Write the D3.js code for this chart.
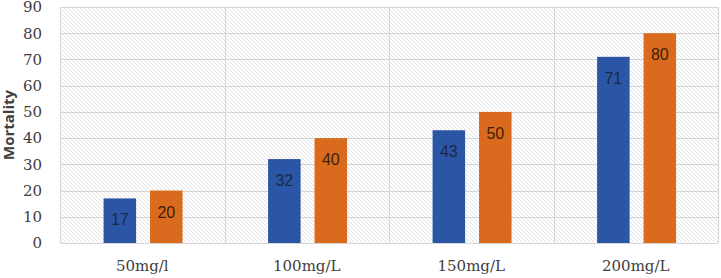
<!doctype html>
<html lang="en">
<head>
  <meta charset="utf-8">
  <title>Mortality</title>
  <script type="text/javascript" src="https://cdnjs.cloudflare.com/ajax/libs/d3/7.8.5/d3.min.js"></script>
  <style>
    body { margin: 0; background: #fff; }
  </style>
</head>
<body>
  <svg width="721" height="278" id="svg"></svg>
<script type="text/javascript">

  // doses along the x axis and the two series
  var doses = ['50mg/l', '100mg/L', '150mg/L', '200mg/L'];
  var seriesA = [17, 32, 43, 71];
  var seriesB = [20, 40, 50, 80];
  var yTicks = [0, 10, 20, 30, 40, 50, 60, 70, 80, 90];

  // note: "top" is taken by window.top, so use plot* names
  var plotLeft = 60, plotRight = 718, plotTop = 7, plotBottom = 243;

  var svg = d3.select('#svg');

  // hatched background
  var defs = svg.append('defs');
  var pat = defs.append('pattern')
    .attr('id', 'hatch')
    .attr('patternUnits', 'userSpaceOnUse')
    .attr('width', 4).attr('height', 4);
  pat.append('path')
    .attr('d', 'M-1,-1 L5,5 M3,-1 L5,1 M-1,3 L1,5')
    .attr('stroke', '#e2e2e2')
    .attr('stroke-width', 1);

  var x = d3.scaleBand()
    .domain(doses)
    .range([plotLeft, plotRight]);

  var inner = d3.scaleBand()
    .domain(['a', 'b'])
    .range([x.bandwidth() * 0.265, x.bandwidth() * 0.745])
    .paddingInner(0.3);

  var y = d3.scaleLinear()
    .domain([0, 90])
    .range([plotBottom, plotTop]);

  svg.append('rect')
    .attr('x', plotLeft).attr('y', plotTop)
    .attr('width', plotRight - plotLeft).attr('height', plotBottom - plotTop)
    .attr('fill', 'url(#hatch)');

  // horizontal grid
  svg.append('g')
    .selectAll('line')
    .data(yTicks)
    .join('line')
    .attr('x1', plotLeft).attr('x2', plotRight)
    .attr('y1', function(d) { return Math.round(y(d)) + 0.5; })
    .attr('y2', function(d) { return Math.round(y(d)) + 0.5; })
    .attr('stroke', '#d6d6d6');

  // vertical grid at category boundaries
  var edges = doses.map(function(d) { return x(d); }).concat([plotRight]);
  svg.append('g')
    .selectAll('line')
    .data(edges)
    .join('line')
    .attr('x1', function(d) { return Math.round(d) + 0.5; })
    .attr('x2', function(d) { return Math.round(d) + 0.5; })
    .attr('y1', plotTop).attr('y2', plotBottom)
    .attr('stroke', '#d6d6d6');

  // y axis labels
  var yAxis = svg.append('g')
    .attr('transform', 'translate(' + (plotLeft - 2) + ',0)')
    .call(d3.axisLeft(y).tickValues(yTicks).tickSize(0).tickPadding(16));
  yAxis.select('.domain').remove();
  yAxis.selectAll('text')
    .attr('font-family', 'DejaVu Serif, serif')
    .attr('font-size', 15)
    .attr('fill', '#404040');

  // x axis labels
  var xAxis = svg.append('g')
    .attr('transform', 'translate(0,' + plotBottom + ')')
    .call(d3.axisBottom(x).tickSize(0).tickPadding(17));
  xAxis.select('.domain').remove();
  xAxis.selectAll('text')
    .attr('font-family', 'DejaVu Serif, serif')
    .attr('font-size', 15)
    .attr('fill', '#404040');

  svg.append('text')
    .attr('transform', 'translate(14,' + ((plotTop + plotBottom) / 2) + ') rotate(-90)')
    .attr('text-anchor', 'middle')
    .attr('font-family', 'Open Sans, sans-serif')
    .attr('font-weight', 'bold')
    .attr('font-size', 15)
    .attr('fill', '#404040')
    .text('Mortality');

  var groups = [
    { key: 'a', values: seriesA, fill: '#2b55a5', label: '#1b2a48' },
    { key: 'b', values: seriesB, fill: '#da6b1e', label: '#3d1f08' }
  ];

  groups.forEach(function(g) {
    var bars = svg.append('g');
    bars.selectAll('rect')
      .data(g.values)
      .join('rect')
      .attr('x', function(d, i) { return x(doses[i]) + inner(g.key); })
      .attr('y', function(d) { return y(d); })
      .attr('width', inner.bandwidth())
      .attr('height', function(d) { return y(0) - y(d); })
      .attr('fill', g.fill);
    bars.selectAll('text')
      .data(g.values)
      .join('text')
      .attr('x', function(d, i) { return x(doses[i]) + inner(g.key) + inner.bandwidth() / 2; })
      .attr('y', function(d) { return y(d) + 27; })
      .attr('text-anchor', 'middle')
      .attr('font-family', 'Liberation Sans, sans-serif')
      .attr('font-size', 16)
      .attr('fill', g.label)
      .text(function(d) { return d; });
  });

</script>
</body>
</html>
